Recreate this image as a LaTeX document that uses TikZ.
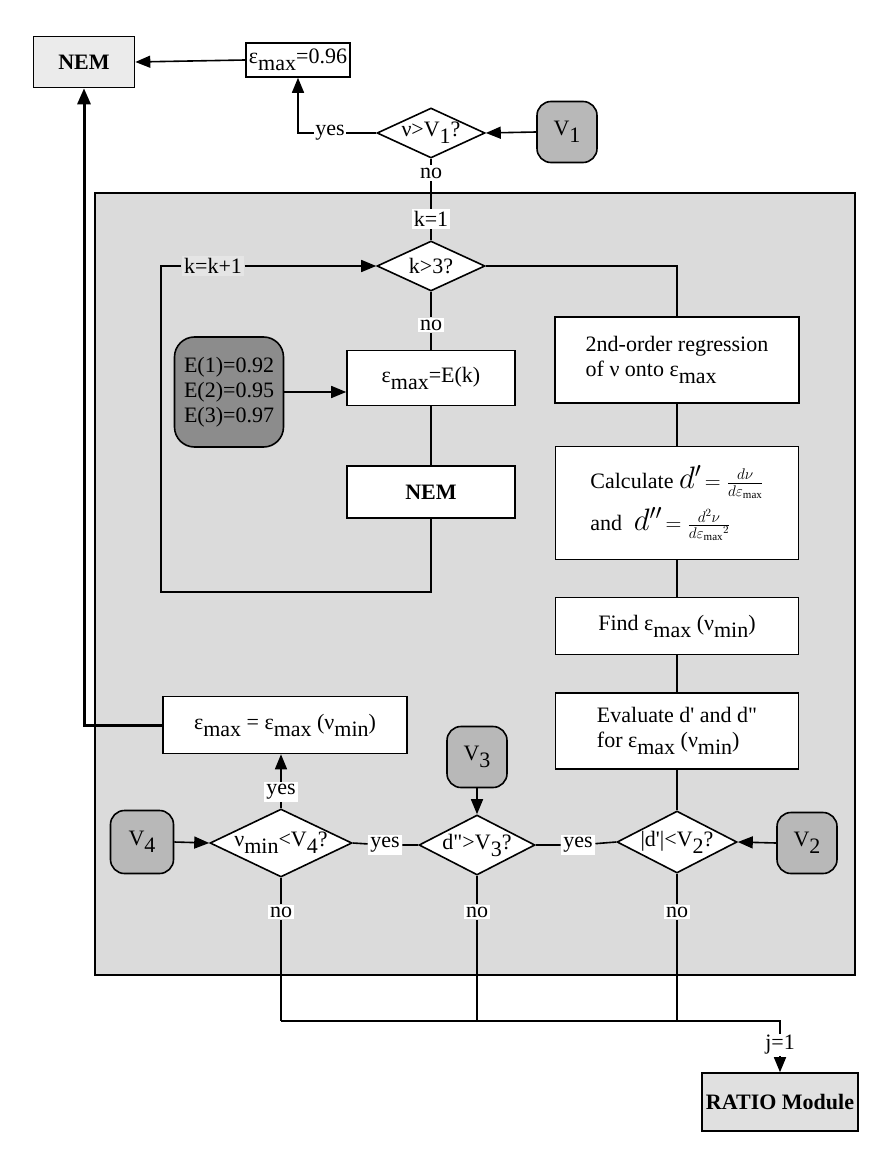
\RequirePackage{fix-cm}
\documentclass[tikz,border=0pt]{standalone}
\usepackage{fontspec}
\setmainfont{Liberation Serif}
\newfontfamily\nomapfont{Liberation Serif}
\usetikzlibrary{shapes.geometric,arrows.meta}
\newcommand\sub[1]{\raisebox{-0.32em}{#1}}
\newcommand\apos{{\nomapfont\char"27\relax}}
\newcommand\dquo{{\nomapfont\char"22\relax}}
\definecolor{regiongray}{gray}{0.86}
\begin{document}
\begin{tikzpicture}[x=1pt,y=-1pt,line width=1.6pt,
  font=\fontsize{22}{25}\selectfont,
  box/.style={draw,fill=white,rectangle,inner sep=2pt},
  dia/.style={draw,fill=white,diamond,inner sep=0pt},
  vbox/.style={draw,fill=black!28,rounded corners=14pt,inner sep=0pt,minimum width=60pt,minimum height=61pt},
  lbl/.style={fill=white,inner sep=2pt},
  arr/.style={-{Triangle[length=15pt,width=12pt]}},
  thickarr/.style={line width=3pt,-{Triangle[length=16pt,width=13pt]}}]
\useasboundingbox (0,0) rectangle (887,1155);
% shaded region
\node[draw,fill=regiongray,minimum width=760pt,minimum height=782pt,inner sep=0pt] (region) at (475,584) {};
% top part
\node[box,fill=black!8,minimum width=101pt,minimum height=51pt] (nemA) at (84,62) {\textbf{NEM}};
\node[box,minimum width=104pt,minimum height=34pt] (eps096) at (298,60) {ε\sub{max}=0.96};
\node[dia,minimum width=108pt,minimum height=50pt] (d1) at (431,133) {};
\node at (d1) {ν>V\sub{1}?};
\node[vbox] (V1) at (567,132) {V\sub{1}};
\node[inner sep=1pt] (yes1) at (330,133) {yes};
\node[lbl] (no1) at (431,173) {no};
% loop
\node[lbl] (k1) at (431,219) {k=1};
\node[dia,minimum width=108pt,minimum height=50pt] (d2) at (431,266) {};
\node at (d2) {k>3?};
\node[fill=black!10,inner sep=2pt] (kk) at (213,266) {k=k+1};
\node[lbl] (no2) at (431,325) {no};
\node[box,minimum width=168pt,minimum height=55pt] (epsE) at (431,378) {ε\sub{max}=E(k)};
\node[draw,fill=black!45,rounded corners=20pt,minimum width=109pt,minimum height=110pt,align=left,inner sep=2pt] (Ebox) at (229,392) {E(1)=0.92\\E(2)=0.95\\E(3)=0.97};
\node[box,minimum width=168pt,minimum height=52pt] (nemB) at (431,492) {\textbf{NEM}};
\coordinate (loopBR) at (431,592);
\coordinate (loopBL) at (161,592);
\coordinate (loopTL) at (161,266);
% right chain
\node[box,minimum width=244pt,minimum height=86pt,align=left] (reg) at (677,360) {2nd-order regression\\of ν onto ε\sub{max}};
\node[box,minimum width=243pt,minimum height=113pt,align=left] (calc) at (677,503) {Calculate {\fontsize{31}{31}\selectfont$d'$}$\,=\frac{d\nu}{d\varepsilon_{\max}}$\\[8pt] and\; {\fontsize{31}{31}\selectfont$d''$}$\,=\frac{d^2\nu}{d{\varepsilon_{\max}}^2}$};
\node[box,minimum width=243pt,minimum height=57pt] (find) at (677,626) {Find ε\sub{max} (ν\sub{min})};
\node[box,minimum width=243pt,minimum height=76pt,align=left] (eval) at (677,731) {Evaluate d\apos{} and d\dquo\\for ε\sub{max} (ν\sub{min})};
% bottom diamonds
\node[dia,minimum width=120pt,minimum height=62pt] (d3) at (677,842) {};
\node at (d3) {|d\apos|<V\sub{2}?};
\node[vbox] (V2) at (807,843) {V\sub{2}};
\node[dia,minimum width=116pt,minimum height=60pt] (d4) at (477,845) {};
\node at (d4) {d\dquo>V\sub{3}?};
\node[vbox] (V3) at (477,757) {V\sub{3}};
\node[dia,minimum width=142pt,minimum height=68pt] (d5) at (281,843) {};
\node at (d5) {ν\sub{min}<V\sub{4}?};
\node[vbox,minimum width=63pt,minimum height=63pt] (V4) at (142,842) {V\sub{4}};
\node[box,minimum width=244pt,minimum height=57pt] (epsmin) at (285,725) {ε\sub{max} = ε\sub{max} (ν\sub{min})};
\node[lbl] (yesup) at (281,792) {yes};
\node[lbl] (yes2) at (385,845) {yes};
\node[lbl] (yes3) at (578,845) {yes};
\node[lbl] (no5) at (281,912) {no};
\node[lbl] (no4) at (477,912) {no};
\node[lbl] (no3) at (677,912) {no};
\coordinate (b5) at (281,1021);
\coordinate (b4) at (477,1021);
\coordinate (b3) at (677,1021);
\coordinate (bR) at (780,1021);
\node[inner sep=1pt,fill=white] (j1) at (780,1045) {j=1};
\node[box,fill=black!12,minimum width=156pt,minimum height=58pt] (ratio) at (780,1102) {\textbf{RATIO Module}};
% connectors
\draw[arr] (eps096.west) -- (nemA.east);
\draw[arr] (V1.west) -- (d1.east);
\draw (d1.west) -- (yes1.east);
\draw[arr] (yes1.west) -| (eps096.south);
\draw (d1.south) -- (no1);
\draw (no1) -- (k1);
\draw (k1) -- (d2.north);
\draw (nemB.south) -- (loopBR) -- (loopBL) -- (loopTL) -- (kk);
\draw[arr] (kk) -- (d2.west);
\draw (d2.south) -- (no2) -- (epsE.north);
\draw (epsE.south) -- (nemB.north);
\draw[arr] (Ebox.east) -- (Ebox.east -| epsE.west);
\draw (d2.east) -| (reg.north);
\draw (reg.south) -- (calc.north);
\draw (calc.south) -- (find.north);
\draw (find.south) -- (eval.north);
\draw (eval.south) -- (d3.north);
\draw[arr] (V2.west) -- (d3.east);
\draw (d3.west) -- (yes3) -- (d4.east);
\draw[arr] (V3.south) -- (d4.north);
\draw (d4.west) -- (yes2) -- (d5.east);
\draw[arr] (V4.east) -- (d5.west);
\draw (d5.north) -- (yesup);
\draw[arr] (yesup) -- (yesup |- epsmin.south);
\draw[thickarr] (epsmin.west) -| (nemA.south);
\draw (d5.south) -- (no5) -- (b5);
\draw (d4.south) -- (no4) -- (b4);
\draw (d3.south) -- (no3) -- (b3);
\draw (b5) -- (bR) -- (j1);
\draw[arr] (j1) -- (ratio.north);
\end{tikzpicture}
\end{document}
